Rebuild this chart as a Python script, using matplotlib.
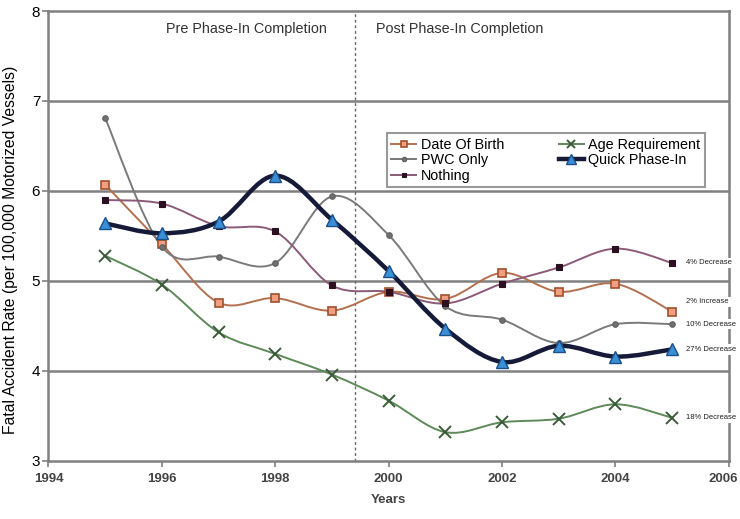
import matplotlib
matplotlib.use("Agg")
import matplotlib.pyplot as plt
import matplotlib.transforms as mtransforms
from matplotlib.path import Path
from matplotlib.patches import PathPatch
from matplotlib.lines import Line2D

plt.rcParams['font.family'] = ['Liberation Sans', 'DejaVu Sans']

years = [1995, 1996, 1997, 1998, 1999, 2000, 2001, 2002, 2003, 2004, 2005]

date_of_birth = [6.07, 5.41, 4.76, 4.81, 4.67, 4.88, 4.80, 5.09, 4.88, 4.97, 4.66]
age_requirement = [5.28, 4.96, 4.43, 4.19, 3.96, 3.67, 3.32, 3.43, 3.47, 3.63, 3.48]
pwc_only = [6.81, 5.38, 5.27, 5.20, 5.94, 5.51, 4.72, 4.57, 4.31, 4.52, 4.52]
quick_phase_in = [5.64, 5.53, 5.66, 6.17, 5.68, 5.11, 4.47, 4.10, 4.28, 4.16, 4.24]
nothing = [5.90, 5.86, 5.61, 5.55, 4.95, 4.88, 4.75, 4.97, 5.15, 5.36, 5.20]

end_labels = ["4% Decrease", "2% Increase", "10% Decrease", "27% Decrease", "18% Decrease"]
end_label_y = [5.20, 4.77, 4.52, 4.24, 3.48]

phase_in_year = 1999.4


def smooth_path(x, y):
    """Catmull-Rom style bezier through every point (like a spreadsheet smoothed line)."""
    verts = [(x[0], y[0])]
    codes = [Path.MOVETO]
    n = len(x)
    for i in range(n - 1):
        x0, y0 = (x[i - 1], y[i - 1]) if i > 0 else (x[i], y[i])
        x3, y3 = (x[i + 2], y[i + 2]) if i + 2 < n else (x[i + 1], y[i + 1])
        c1 = (x[i] + (x[i + 1] - x0) / 6.0, y[i] + (y[i + 1] - y0) / 6.0)
        c2 = (x[i + 1] - (x3 - x[i]) / 6.0, y[i + 1] - (y3 - y[i]) / 6.0)
        verts += [c1, c2, (x[i + 1], y[i + 1])]
        codes += [Path.CURVE4] * 3
    return Path(verts, codes)


series = [
    ("Date Of Birth", date_of_birth, dict(color="#b2704f", lw=1.4, marker="s", ms=6,
                                          mfc="#f0a080", mec="#a0502c", mew=1.2)),
    ("PWC Only", pwc_only, dict(color="#7a7a7a", lw=1.4, marker="o", ms=4,
                                mfc="#707070", mec="#606060", mew=0.8)),
    ("Nothing", nothing, dict(color="#8c5a78", lw=1.4, marker="s", ms=4,
                              mfc="#2a1020", mec="#2a1020", mew=0.8)),
    ("Age Requirement", age_requirement, dict(color="#5d8a58", lw=1.4, marker="x", ms=8,
                                              mfc="none", mec="#3c5a3a", mew=1.4)),
    ("Quick Phase-In", quick_phase_in, dict(color="#141a38", lw=3.2, marker="^", ms=9,
                                            mfc="#3b8fd6", mec="#1a4f8a", mew=1.0)),
]

fig = plt.figure(figsize=(7.40, 5.19), dpi=100)
ax = fig.add_axes([0.0655, 0.1118, 0.9195, 0.867])

grid_color = "#808080"
for yv in [4, 5, 6, 7]:
    ax.axhline(yv, color=grid_color, lw=1.8, zorder=1)
ax.axvline(phase_in_year, color="#666666", lw=1.0, ls=(0, (2, 2)), zorder=1)

handles = []
for name, vals, st in series:
    patch = PathPatch(smooth_path(years, vals), facecolor="none", edgecolor=st["color"],
                      lw=st["lw"], zorder=3 if name != "Quick Phase-In" else 4)
    ax.add_patch(patch)
    ax.plot(years, vals, ls="none", marker=st["marker"], ms=st["ms"], mfc=st["mfc"],
            mec=st["mec"], mew=st["mew"], zorder=5)
    handles.append(Line2D([], [], color=st["color"], lw=st["lw"], marker=st["marker"],
                          ms=st["ms"] * 0.8, mfc=st["mfc"], mec=st["mec"], mew=st["mew"],
                          label=name))

ax.set_xlim(1994, 2006)
ax.set_ylim(3, 8)
ax.set_xticks(range(1994, 2007, 2))
ax.set_yticks(range(3, 9))
ax.tick_params(axis="x", direction="out", length=4, width=1.2, color=grid_color,
               labelsize=9.5, pad=5, labelcolor="#444444")
for lbl in ax.get_xticklabels():
    lbl.set_fontweight("bold")
# nudge the last year label so it stays inside the figure edge
last = ax.get_xticklabels()[-1]
last.set_transform(last.get_transform() + mtransforms.ScaledTranslation(-6 / 100, 0, fig.dpi_scale_trans))
ax.tick_params(axis="y", direction="out", length=4, width=1.2, color=grid_color,
               labelsize=11, pad=2)
for sp in ax.spines.values():
    sp.set_color(grid_color)
    sp.set_linewidth(1.8)

ax.set_xlabel("Years", fontsize=9.5, fontweight="bold", color="#444444", labelpad=6)
ax.set_ylabel("Fatal Accident Rate (per 100,000 Motorized Vessels)", fontsize=11.3)
ax.yaxis.set_label_coords(-0.045, 0.47)

ax.text(1997.5, 7.8, "Pre Phase-In Completion", ha="center", va="center", fontsize=10.4,
        color="#333333")
ax.text(2001.25, 7.8, "Post Phase-In Completion", ha="center", va="center", fontsize=10.4,
        color="#333333")

for txt, yv in zip(end_labels, end_label_y):
    ax.text(2005.25, yv, txt, ha="left", va="center", fontsize=5.5, color="#222222",
            clip_on=False, bbox=dict(facecolor="white", edgecolor="none", pad=1.2), zorder=6)

leg = ax.legend(handles=handles, ncol=2, loc="upper left", bbox_to_anchor=(0.497, 0.728),
                fontsize=10.4, frameon=True, fancybox=False, edgecolor=grid_color,
                handlelength=1.75, handletextpad=0.3, columnspacing=3.8, labelspacing=0.1,
                borderpad=0.3, borderaxespad=0)
leg.get_frame().set_linewidth(1.5)

fig.savefig("out.png", dpi=100)
